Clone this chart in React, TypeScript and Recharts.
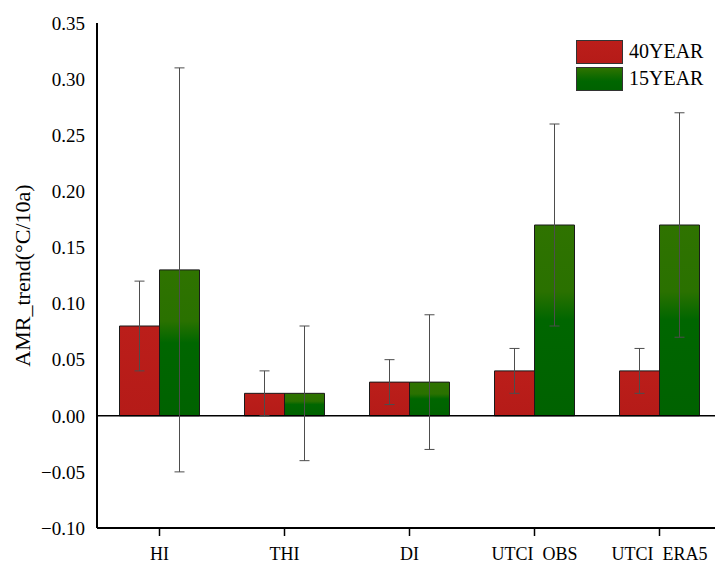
import { BarChart, Bar, XAxis, YAxis, ErrorBar, ReferenceLine, Legend } from "recharts";

const categories = ["HI", "THI", "DI", "UTCI\u00a0\u00a0OBS", "UTCI\u00a0\u00a0ERA5"];
const trend40 = [0.08, 0.02, 0.03, 0.04, 0.04];
const err40 = [0.04, 0.02, 0.02, 0.02, 0.02];
const trend15 = [0.13, 0.02, 0.03, 0.17, 0.17];
const err15 = [0.18, 0.06, 0.06, 0.09, 0.1];
const yTicks = [-0.1, -0.05, 0, 0.05, 0.1, 0.15, 0.2, 0.25, 0.3, 0.35];

const data = categories.map((name, i) => ({
  name,
  y40: trend40[i],
  e40: err40[i],
  y15: trend15[i],
  e15: err15[i],
}));

const FONT = "Liberation Serif, Times New Roman, serif";

const legendItems = [
  { label: "40YEAR", bg: "linear-gradient(#bb1e1a, #b51b18)" },
  { label: "15YEAR", bg: "linear-gradient(#2f7300, #006600 60%, #006200)" },
];

function LegendBox() {
  return (
    <div style={{ fontFamily: FONT, fontSize: 20, color: "#000" }}>
      {legendItems.map((it) => (
        <div key={it.label} style={{ display: "flex", alignItems: "center", height: 27 }}>
          <div
            style={{
              width: 45,
              height: 22,
              background: it.bg,
              border: "1px solid #333",
              marginRight: 6,
            }}
          />
          <span>{it.label}</span>
        </div>
      ))}
    </div>
  );
}

const fmt = (v: number) => {
  const s = Math.abs(v).toFixed(2);
  return v < 0 ? "\u2212" + s : s;
};

const tickStyle = { fontSize: 18, fill: "#000", style: { fontFamily: FONT } };

export default function App() {
  return (
    <div
      style={{
        position: "absolute",
        left: 0,
        top: 0,
        width: 715,
        height: 567,
        overflow: "hidden",
        background: "#fff",
        fontFamily: FONT,
      }}
    >
      <BarChart
        width={745}
        height={567}
        data={data}
        margin={{ top: 23, right: 23, bottom: 0, left: 0 }}
        barCategoryGap="18%"
        barGap={0}
        style={{ fontFamily: FONT }}
      >
        <defs>
          <linearGradient id="gRed" x1="0" y1="0" x2="0" y2="1">
            <stop offset="0%" stopColor="#bb1e1a" />
            <stop offset="100%" stopColor="#b51b18" />
          </linearGradient>
          <linearGradient id="gGreen" x1="0" y1="0" x2="0" y2="1">
            <stop offset="0%" stopColor="#2f7300" />
            <stop offset="35%" stopColor="#2a7100" />
            <stop offset="50%" stopColor="#006600" />
            <stop offset="100%" stopColor="#006200" />
          </linearGradient>
        </defs>
        <XAxis
          dataKey="name"
          height={39}
          axisLine={{ stroke: "#000", strokeWidth: 2 }}
          tickLine={{ stroke: "#000", strokeWidth: 1.5 }}
          tickSize={8}
          tickMargin={11}
          tick={tickStyle}
        />
        <XAxis
          xAxisId="top"
          dataKey="name"
          orientation="top"
          height={0}
          tick={false}
          tickLine={false}
          axisLine={{ stroke: "#000", strokeWidth: 2 }}
        />
        <YAxis
          width={97}
          domain={[-0.1, 0.35]}
          ticks={yTicks}
          tickFormatter={fmt}
          axisLine={{ stroke: "#000", strokeWidth: 2 }}
          tickLine={false}
          tickMargin={6}
          tick={{ ...tickStyle, fontSize: 19 }}
          label={(props: any) => {
            const vb = props.viewBox;
            const x = vb.x + 22;
            const y = vb.y + vb.height / 2;
            return (
              <text
                x={x}
                y={y}
                transform={`rotate(-90 ${x} ${y})`}
                textAnchor="middle"
                dominantBaseline="central"
                fontSize={22}
                style={{ fontFamily: FONT }}
                fill="#000"
              >
                AMR_trend(°C/10a)
              </text>
            );
          }}
        />
        <Legend
          verticalAlign="middle"
          align="center"
          layout="vertical"
          content={() => <LegendBox />}
          wrapperStyle={{ top: 38, left: 576, right: "auto", bottom: "auto", width: "auto", position: "absolute" }}
        />
        <ReferenceLine y={0} stroke="#000" strokeWidth={1.5} />
        <Bar dataKey="y40" name="40YEAR" fill="url(#gRed)" stroke="#1a1a1a" strokeWidth={1} isAnimationActive={false}>
          <ErrorBar dataKey="e40" width={5} stroke="#4d4d4d" strokeWidth={1} />
        </Bar>
        <Bar dataKey="y15" name="15YEAR" fill="url(#gGreen)" stroke="#1a1a1a" strokeWidth={1} isAnimationActive={false}>
          <ErrorBar dataKey="e15" width={5} stroke="#4d4d4d" strokeWidth={1} />
        </Bar>
      </BarChart>
    </div>
  );
}
